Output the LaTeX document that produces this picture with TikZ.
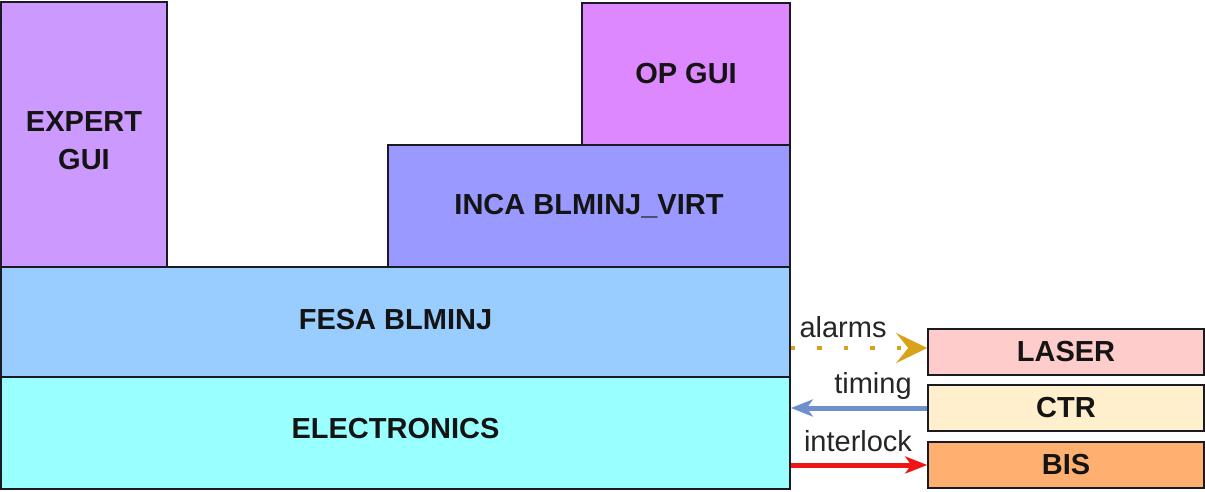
\documentclass[tikz,border=0pt]{standalone}
\usepackage{fontspec}
\setmainfont{Liberation Sans}
\usetikzlibrary{arrows.meta}
\definecolor{cexpert}{HTML}{CC99FF}
\definecolor{cop}{HTML}{DD88FF}
\definecolor{cinca}{HTML}{9999FF}
\definecolor{cfesa}{HTML}{99CCFF}
\definecolor{celec}{HTML}{99FFFF}
\definecolor{claser}{HTML}{FFCCCC}
\definecolor{cctr}{HTML}{FFEFCC}
\definecolor{cbis}{HTML}{FFB070}
\definecolor{cborder}{HTML}{1A1A22}
\definecolor{calarm}{HTML}{D9A21B}
\definecolor{ctiming}{HTML}{6E90CC}
\definecolor{cinter}{HTML}{EE1515}
\tikzset{
  layer/.style={draw=cborder, line width=1.6pt, rectangle, inner sep=0pt, align=center,
    font=\fontsize{29}{38}\selectfont\bfseries, text=black!92},
  sidebox/.style={layer, minimum width=276pt, minimum height=46pt},
  lbl/.style={font=\fontsize{29}{34}\selectfont, text=black!85, inner sep=0pt},
}
\begin{document}
\begin{tikzpicture}[x=1pt,y=-1pt]
\useasboundingbox (0,0) rectangle (1205,491);
\node[layer, fill=cexpert, minimum width=166pt, minimum height=265pt] (expert) at (84,134.5) {};
\node[layer, draw=none, fill=none] (experttext) at (84,141) {EXPERT\\GUI};
\node[layer, fill=cop, minimum width=208pt, minimum height=142pt] (op) at (686,74) {OP GUI};
\node[layer, fill=cinca, minimum width=402pt, minimum height=122pt] (inca) at (589,206) {INCA BLMINJ\_VIRT};
\node[layer, fill=cfesa, minimum width=789pt, minimum height=110pt] (fesa) at (395.5,322) {};
\node[layer, draw=none, fill=none] (fesatext) at (395.5,320) {FESA BLMINJ};
\node[layer, fill=celec, minimum width=789pt, minimum height=112pt] (elec) at (395.5,433) {};
\node[layer, draw=none, fill=none] (electext) at (395.5,429) {ELECTRONICS};
\node[sidebox, fill=claser] (laser) at (1066,352) {LASER};
\node[sidebox, fill=cctr] (ctr) at (1066,408) {CTR};
\node[sidebox, fill=cbis] (bis) at (1066,465) {BIS};
\draw[calarm, line width=4.5pt, dash pattern=on 4.5pt off 22pt,
  -{Stealth[length=31pt,width=30pt,inset=12pt]}]
  ([yshift=4pt]laser.west -| fesa.east) -- ([yshift=4pt]laser.west);
\draw[ctiming, line width=5pt, -{Stealth[length=22pt,width=17pt,inset=6pt]}]
  (ctr.west) -- (ctr.west -| elec.east);
\draw[cinter, line width=5pt, -{Stealth[length=22pt,width=17pt,inset=6pt]}]
  (bis.west -| elec.east) -- (bis.west);
\node[lbl] (lalarm) at (843,327) {alarms};
\node[lbl] (ltiming) at (873,386) {timing};
\node[lbl] (linter) at (858,441) {interlock};
\end{tikzpicture}
\end{document}
